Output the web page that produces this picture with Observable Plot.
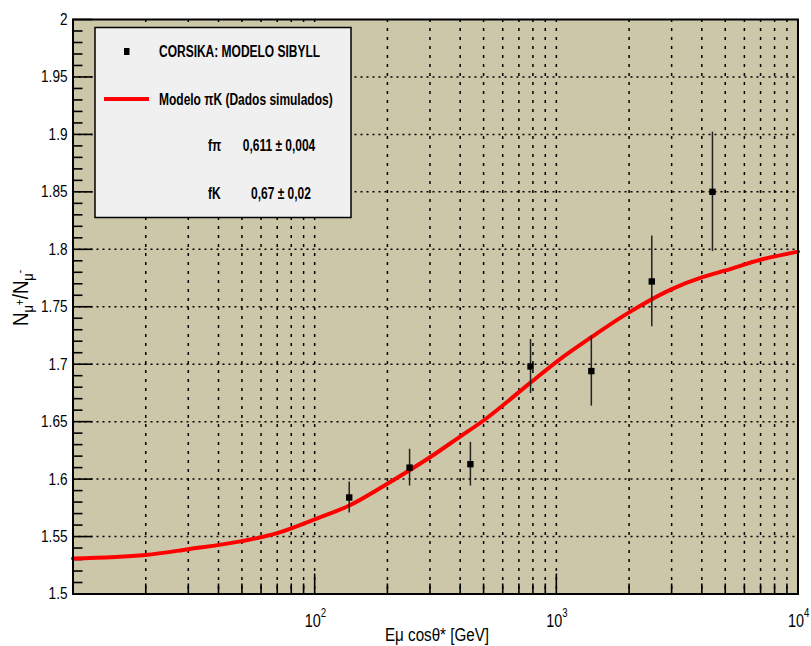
<!DOCTYPE html>
<html>
<head>
<meta charset="utf-8">
<style>
  body { margin: 0; background: white; }
  #chart { width: 811px; height: 646px; }
</style>
</head>
<body>
<div id="chart"></div>
<script src="https://cdn.jsdelivr.net/npm/d3@7"></script>
<script src="https://cdn.jsdelivr.net/npm/@observablehq/plot@0.6"></script>
<script>
// ---- data ----
const energy = [139, 247, 441, 782, 1396, 2483, 4426];          // Eμ cosθ* [GeV]
const ratio  = [1.584, 1.610, 1.613, 1.698, 1.694, 1.772, 1.850]; // Nμ+/Nμ-
const errors = [0.0135, 0.016, 0.019, 0.0235, 0.0305, 0.0395, 0.052];

const modelE = [10, 20, 30, 50, 70, 100, 139, 200, 300, 400, 500, 782, 1040, 1396, 2007, 3020, 4022, 5012, 7000, 10000];
const modelR = [1.531, 1.534, 1.539, 1.546, 1.553, 1.565, 1.577, 1.596, 1.619, 1.637, 1.651, 1.684, 1.7047, 1.7235, 1.7453, 1.7656, 1.7757, 1.7816, 1.7909, 1.798];

const yTicks = [1.5, 1.55, 1.6, 1.65, 1.7, 1.75, 1.8, 1.85, 1.9, 1.95, 2];
const yMinor = d3.range(1.5, 2.0001, 0.01).map(v => +v.toFixed(2));
const xDecades = [100, 1000, 10000];
const xMinor = [20,30,40,50,60,70,80,90,200,300,400,500,600,700,800,900,2000,3000,4000,5000,6000,7000,8000,9000];

const legendTitle = "CORSIKA: MODELO SIBYLL";
const legendModel = "Modelo πK (Dados simulados)";
const fitNames = ["fπ", "fK"];
const fitValues = ["0,611 ± 0,004", "0,67 ± 0,02"];

// ---- build ----
const FONT = '"Liberation Sans", Arial, sans-serif';
const SX = 0.8;   // horizontal squeeze of the reference's narrow lettering
const SXL = 0.75; // legend squeeze
const BG = "#cdc7aa";
const points = energy.map((e, i) => ({e, r: ratio[i], lo: ratio[i] - errors[i], hi: ratio[i] + errors[i]}));
const model = modelE.map((e, i) => ({e, r: modelR[i]}));

const mL = 72.5, mR = 13.5, mT = 19, mB = 52.5;
const W = 811, H = 646;
const pxPerDecade = (W - mL - mR) / 3;
const pxPerUnitY = (H - mT - mB) / 0.5;
const dxLog = (x, px) => x * Math.pow(10, px / pxPerDecade);
const dyLin = px => px / pxPerUnitY;

const yGrid = yTicks.slice(1, -1);
const xGrid = [...xMinor, 100, 1000];
const yMinorOnly = yMinor.filter(v => !yTicks.some(t => Math.abs(t - v) < 1e-9));

const plot = Plot.plot({
  width: W, height: H,
  marginLeft: mL, marginRight: mR, marginTop: mT, marginBottom: mB,
  x: {type: "log", domain: [10, 10000], axis: null},
  y: {domain: [1.5, 2]},
  style: {fontFamily: FONT, background: "white", overflow: "visible"},
  marks: [
    Plot.frame({fill: BG}),
    Plot.ruleY(yGrid, {stroke: "black", strokeWidth: 1.5, strokeDasharray: "2,4"}),
    Plot.ruleX(xGrid, {stroke: "black", strokeWidth: 1.5, strokeDasharray: "3,6"}),
    // y ticks (inward)
    Plot.ruleY(yTicks, {x1: 10, x2: dxLog(10, 20), stroke: "black", strokeWidth: 1.6}),
    Plot.ruleY(yMinorOnly, {x1: 10, x2: dxLog(10, 10), stroke: "black", strokeWidth: 1.6}),
    // x ticks (inward)
    Plot.ruleX(xDecades, {y1: 1.5, y2: 1.5 + dyLin(20), stroke: "black", strokeWidth: 1.6}),
    Plot.ruleX(xMinor, {y1: 1.5, y2: 1.5 + dyLin(10), stroke: "black", strokeWidth: 1.6}),
    // model curve
    Plot.line(model, {x: "e", y: "r", stroke: "#ff0000", strokeWidth: 4, curve: "monotone-x"}),
    // data with error bars
    Plot.ruleX(points, {x: "e", y1: "lo", y2: "hi", stroke: "#222", strokeWidth: 1.5}),
    Plot.dot(points, {x: "e", y: "r", symbol: "square", r: 3.6, fill: "black", stroke: "none"}),
    Plot.frame({stroke: "black", strokeWidth: 2}),
    // y tick labels
    Plot.axisY({ticks: yTicks, tickSize: 0, tickPadding: 5.5, fontSize: 17, label: null,
                tickFormat: d => String(+d.toFixed(2)), fill: "black"}),
    // x tick labels 10^n
    Plot.text(xDecades, {x: d => d, y: 1.5, text: () => "10", dy: 33, dx: -2, lineAnchor: "bottom",
                         textAnchor: "middle", fontSize: 18, fill: "black"}),
    Plot.text(xDecades, {x: d => d, y: 1.5, text: d => String(Math.round(Math.log10(d))), dy: 23, dx: 6,
                         lineAnchor: "bottom", textAnchor: "start", fontSize: 12, fill: "black"}),
  ]
});

const svg = d3.select(plot);

// x axis title
svg.append("text").attr("x", 437).attr("y", 641).attr("text-anchor", "middle")
  .attr("font-family", FONT).attr("font-size", 19).attr("fill", "black")
  .text("Eμ cosθ* [GeV]");

// y axis title  N_{μ+}/N_{μ-}
const yt = svg.append("text").attr("transform", "translate(28,298) rotate(-90)")
  .attr("text-anchor", "middle").attr("font-family", FONT).attr("font-size", 22).attr("fill", "black")
  .attr("data-sx", 0.85);
yt.append("tspan").text("N");
yt.append("tspan").attr("font-size", 15).attr("dy", 5).text("μ");
yt.append("tspan").attr("font-size", 12).attr("dy", -9).text("+");
yt.append("tspan").attr("dy", 4).text("/N");
yt.append("tspan").attr("font-size", 15).attr("dy", 5).text("μ");
yt.append("tspan").attr("font-size", 12).attr("dy", -9).text("-");

// legend box
const lg = svg.append("g").attr("font-family", FONT).attr("font-weight", "bold").attr("fill", "black")
  .attr("text-anchor", "start");
lg.append("rect").attr("x", 95).attr("y", 27.5).attr("width", 256).attr("height", 190)
  .attr("fill", "#f0f0f0").attr("stroke", "black").attr("stroke-width", 1.5);
lg.append("rect").attr("x", 124).attr("y", 48).attr("width", 5.5).attr("height", 7).attr("fill", "black");
lg.append("line").attr("x1", 104).attr("x2", 149).attr("y1", 99).attr("y2", 99)
  .attr("stroke", "#ff0000").attr("stroke-width", 4);
const lt = (x, y, s, anchor) => lg.append("text").attr("x", x).attr("y", y).attr("font-size", 16)
  .attr("text-anchor", anchor || "start").attr("data-sx", SXL).text(s);
lt(159, 57.5, legendTitle);
lt(159, 105.5, legendModel);
lt(208, 151, fitNames[0]);
lt(279, 151, fitValues[0], "middle");
lt(208, 199, fitNames[1]);
lt(281, 199, fitValues[1], "middle");

// squeeze every text horizontally like the reference's narrow lettering
svg.selectAll("text").each(function () {
  const el = d3.select(this);
  const s = el.attr("data-sx") ? +el.attr("data-sx") : SX;
  const t = el.attr("transform") || "";
  const x = parseFloat(el.attr("x")) || 0;
  el.attr("x", null).attr("transform", `${t} translate(${x},0) scale(${s},1)`);
});

document.getElementById("chart").appendChild(plot);
</script>
</body>
</html>
